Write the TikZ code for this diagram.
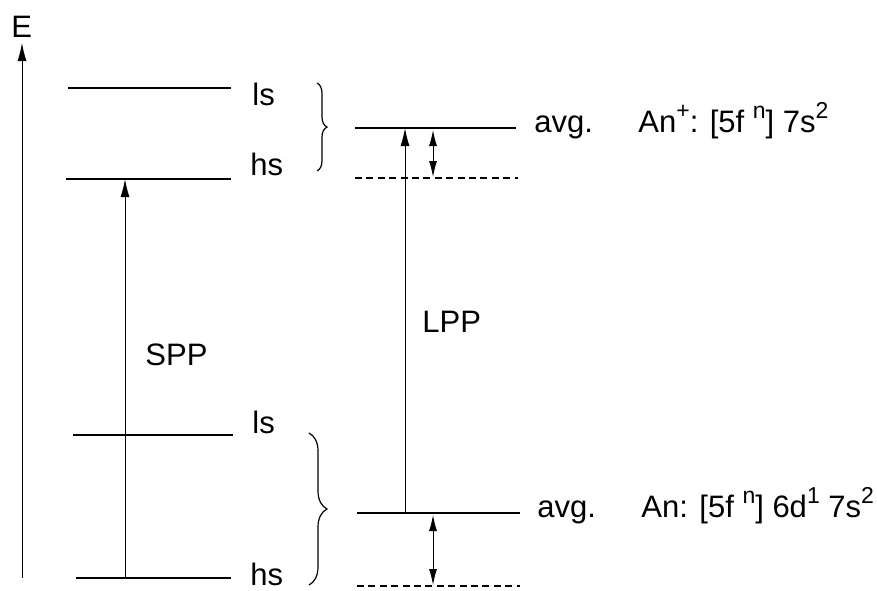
\documentclass[tikz,border=0pt]{standalone}
\usepackage{fontspec}
\setmainfont{Liberation Sans}
\usetikzlibrary{arrows.meta, decorations.pathreplacing}

\newcommand{\up}[1]{\raisebox{0.42em}{\fontsize{11.5}{13}\selectfont #1}}

\tikzset{
  level/.style={line width=1pt},
  trans/.style={line width=0.5pt, -{Latex[length=9pt, width=4.5pt]}},
  gap/.style={line width=0.5pt, {Latex[length=8pt, width=4pt]}-{Latex[length=8pt, width=4pt]}},
  lbl/.style={font=\fontsize{15.5}{18}\selectfont, inner sep=0pt, anchor=base west},
  grp/.style={line width=0.6pt, decorate, decoration={brace, amplitude=#1}}
}

\begin{document}
\begin{tikzpicture}[x=0.5pt, y=-0.5pt]
\useasboundingbox (0,0) rectangle (877,590);

% energy axis
\coordinate (e0) at (22,578);
\coordinate (e1) at (22,43);
\draw[trans] (e0) -- (e1);
\node[lbl] (E) at (11,37) {E};

% single configuration levels
\coordinate (lsA) at (68,88);   \coordinate (lsB) at (231,88);
\coordinate (hsA) at (66,179);  \coordinate (hsB) at (231,179);
\coordinate (lsC) at (73,435);  \coordinate (lsD) at (233,435);
\coordinate (hsC) at (76,578);  \coordinate (hsD) at (231,578);
\draw[level] (lsA) -- (lsB);
\draw[level] (hsA) -- (hsB);
\draw[level] (lsC) -- (lsD);
\draw[level] (hsC) -- (hsD);
\node[lbl] (lsTop) at (252,105) {ls};
\node[lbl] (hsTop) at (250,175) {hs};
\node[lbl] (lsBot) at (252,433) {ls};
\node[lbl] (hsBot) at (250,585) {hs};

% averages
\coordinate (avA) at (355,128); \coordinate (avB) at (516,128);
\coordinate (dsA) at (355,178); \coordinate (dsB) at (518,178);
\coordinate (avC) at (357,513); \coordinate (avD) at (520,513);
\coordinate (dsC) at (357,586); \coordinate (dsD) at (520,586);
\draw[level] (avA) -- (avB);
\draw[level, dash pattern=on 3.5pt off 2.2pt] (dsA) -- (dsB);
\draw[level] (avC) -- (avD);
\draw[level, dash pattern=on 3.5pt off 2.2pt] (dsC) -- (dsD);
\node[lbl] (avgTop) at (534,132) {avg.};
\node[lbl] (avgBot) at (537,517) {avg.};
\node[lbl] (ion) at (638,132) {An\up{+}: [5f \up{n}] 7s\up{2}};
\node[lbl] (neut) at (641,517) {An: [5f \up{n}] 6d\up{1} 7s\up{2}};

% braces
\draw[grp=5pt] (317,83) -- (317,171);
\draw[grp=9pt] (309,433) -- (309,585);

% transitions
\coordinate (spp0) at (125,578); \coordinate (spp1) at (125,179);
\draw[trans] (spp0) -- (spp1);
\node[lbl] (spp) at (145,365) {SPP};
\coordinate (lpp0) at (405,513); \coordinate (lpp1) at (405,128);
\draw[trans] (lpp0) -- (lpp1);
\node[lbl] (lpp) at (422,332) {LPP};
\coordinate (g0) at (433,130); \coordinate (g1) at (433,177);
\draw[gap] (g0) -- (g1);
\coordinate (g2) at (433,515); \coordinate (g3) at (433,585);
\draw[gap] (g2) -- (g3);
\end{tikzpicture}
\end{document}
